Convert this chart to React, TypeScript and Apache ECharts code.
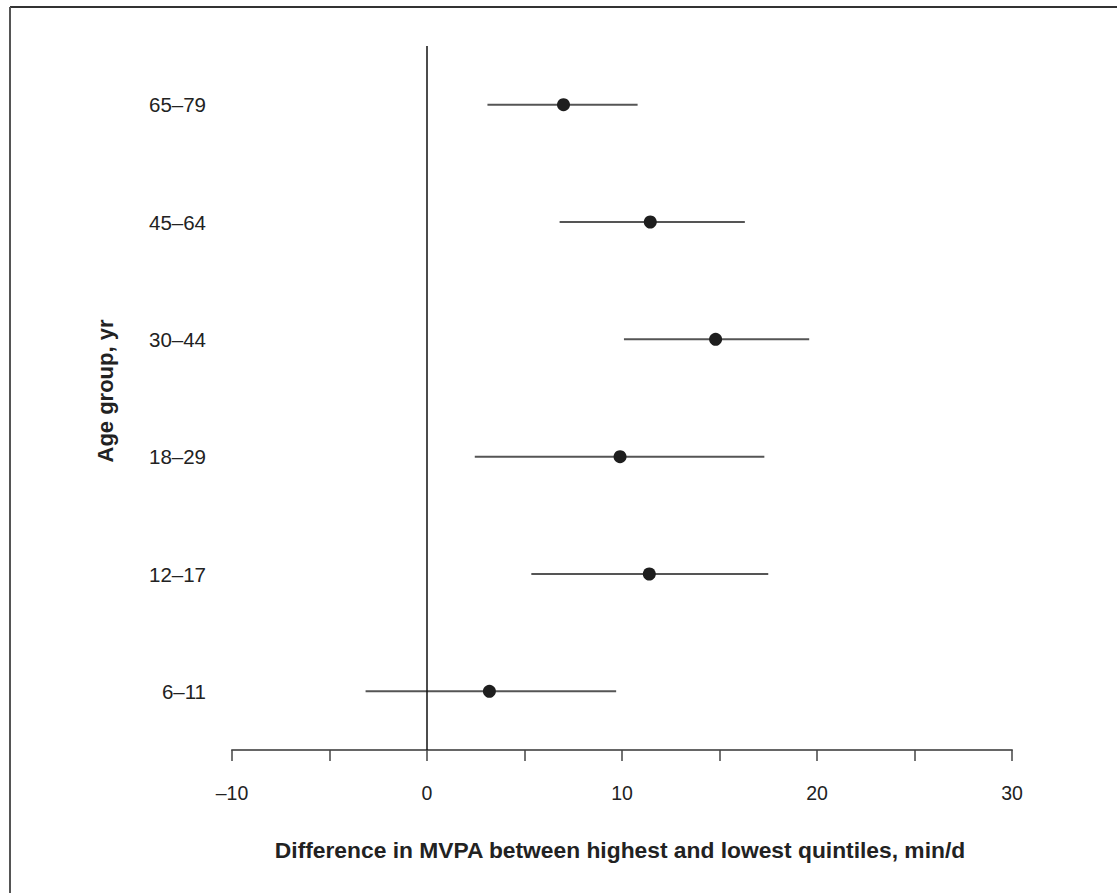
import React, { useEffect, useRef } from "react";
import * as echarts from "echarts";

const ageGroups = ["6–11", "12–17", "18–29", "30–44", "45–64", "65–79"];
const estimates = [3.2, 11.4, 9.9, 14.8, 11.45, 7.0];
const lowerCI = [-3.15, 5.35, 2.45, 10.1, 6.8, 3.1];
const upperCI = [9.7, 17.5, 17.3, 19.6, 16.3, 10.8];
const xTicks = [-10, 0, 10, 20, 30];

const FONT = "'Liberation Sans', Arial, Helvetica, sans-serif";

export default function App() {
  const ref = useRef<HTMLDivElement>(null);
  useEffect(() => {
    document.body.style.margin = "0";
    const chart = echarts.init(ref.current!, null, { renderer: "svg" });
    const ciData = ageGroups.map((_, i) => [i, lowerCI[i], upperCI[i]]);
    const ptData = ageGroups.map((_, i) => [estimates[i], i]);
    chart.setOption({
      animation: false,
      backgroundColor: "#fff",
      grid: { left: 232, right: 105, top: 46, bottom: 143 },
      xAxis: {
        type: "value",
        min: -10,
        max: 30,
        interval: 5,
        splitLine: { show: false },
        axisLine: { show: true, onZero: false, lineStyle: { color: "#666", width: 2 } },
        axisTick: { show: true, length: 11, lineStyle: { color: "#444", width: 1.5 } },
        axisLabel: {
          margin: 33,
          color: "#222",
          fontFamily: FONT,
          fontSize: 19.5,
          formatter: (v: number) =>
            xTicks.includes(v) ? (v < 0 ? "–" + Math.abs(v) : String(v)) : "",
        },
      },
      yAxis: {
        type: "category",
        data: ageGroups,
        boundaryGap: true,
        axisLine: { show: false },
        axisTick: { show: false },
        splitLine: { show: false },
        axisLabel: {
          margin: 26,
          color: "#222",
          fontFamily: FONT,
          fontSize: 20.5,
        },
      },
      series: [
        {
          type: "custom",
          data: ciData,
          encode: { x: [1, 2], y: 0 },
          renderItem: (params: any, api: any) => {
            const y = api.value(0);
            const a = api.coord([api.value(1), y]);
            const b = api.coord([api.value(2), y]);
            return {
              type: "line",
              shape: { x1: a[0], y1: a[1], x2: b[0], y2: b[1] },
              style: { stroke: "#555", lineWidth: 2 },
            };
          },
          z: 2,
          markLine: {
            silent: true,
            symbol: "none",
            label: { show: false },
            lineStyle: { color: "#111", width: 1.5, type: "solid" },
            data: [{ xAxis: 0 }],
          },
        },
        {
          type: "scatter",
          data: ptData,
          symbol: "circle",
          symbolSize: 13,
          itemStyle: { color: "#1e1e1e", opacity: 1 },
          z: 3,
        },
      ],
      graphic: [
        {
          type: "line",
          shape: { x1: 10, y1: 7, x2: 1117, y2: 7 },
          style: { stroke: "#333", lineWidth: 2 },
        },
        {
          type: "line",
          shape: { x1: 10, y1: 7, x2: 10, y2: 893 },
          style: { stroke: "#555", lineWidth: 2 },
        },
        {
          type: "text",
          x: 105,
          y: 391,
          rotation: Math.PI / 2,
          style: {
            text: "Age group, yr",
            fontFamily: FONT,
            fontSize: 22,
            fontWeight: "bold",
            fill: "#222",
            align: "center",
            verticalAlign: "middle",
          },
        },
        {
          type: "text",
          x: 620,
          y: 850,
          style: {
            text: "Difference in MVPA between highest and lowest quintiles, min/d",
            fontFamily: FONT,
            fontSize: 22.8,
            fontWeight: "bold",
            fill: "#222",
            align: "center",
            verticalAlign: "middle",
          },
        },
      ],
    });
    return () => chart.dispose();
  }, []);
  return <div ref={ref} style={{ width: 1117, height: 893 }} />;
}
